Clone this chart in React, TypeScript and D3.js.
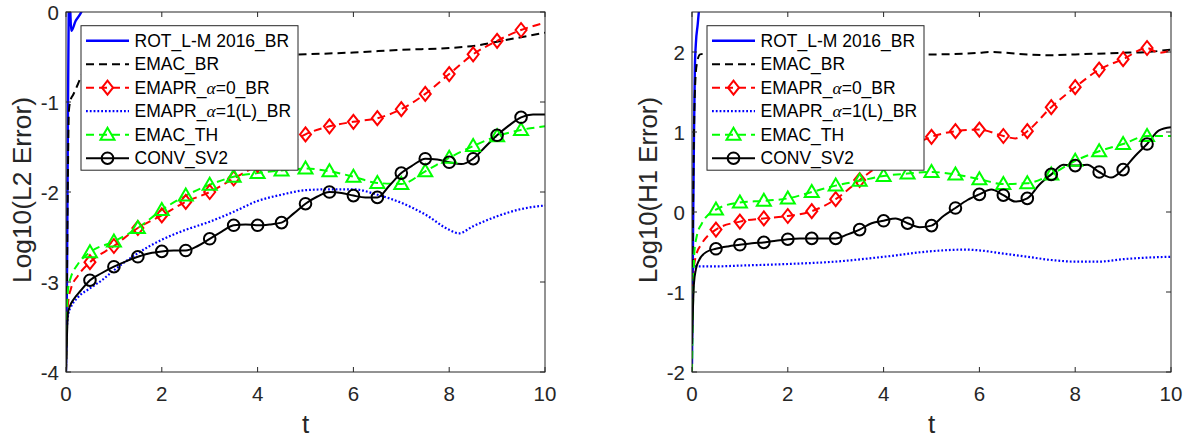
import React from 'react'
import * as d3 from 'd3'

type Pt = [number, number]

// legend names, drawing order = legend order
const seriesNames = ['ROT_L-M 2016_BR', 'EMAC_BR', 'EMAPR_α=0_BR', 'EMAPR_α=1(L)_BR', 'EMAC_TH', 'CONV_SV2']

const xTicks = [0, 2, 4, 6, 8, 10]
const l2Ticks = [-4, -3, -2, -1, 0]
const h1Ticks = [-2, -1, 0, 1, 2]

// ---- left panel: Log10(L2 Error) ----
const l2RotLM: Pt[] = [[0, -4], [0.02, -3.0], [0.04, -1.2], [0.055, -0.1], [0.07, 0.3], [0.09, 0.0], [0.11, -0.21], [0.2, -0.1], [0.32, 0.0], [0.5, 0.3]]
const l2EmacBR: Pt[] = [[0, -4], [0.02, -3.0], [0.04, -1.8], [0.06, -1.1], [0.1, -0.97], [0.15, -0.92], [0.25, -0.8], [0.35, -0.68], [0.5, -0.62], [1, -0.58], [2, -0.54], [3, -0.51], [4, -0.49], [5, -0.47], [6, -0.45], [7, -0.42], [8, -0.4], [8.6, -0.37], [9, -0.33], [9.5, -0.28], [10, -0.23]]
const l2Emapr0: Pt[] = [[0, -4], [0.02, -3.45], [0.05, -3.2], [0.1, -3.08], [0.25, -2.93], [0.5, -2.78], [1, -2.6], [1.5, -2.4], [2, -2.26], [2.5, -2.11], [3, -2.0], [3.5, -1.85], [4, -1.7], [4.5, -1.53], [5, -1.36], [5.5, -1.27], [6, -1.22], [6.5, -1.18], [7, -1.08], [7.5, -0.91], [8, -0.69], [8.5, -0.47], [9, -0.32], [9.5, -0.2], [10, -0.12]]
const l2Emapr1: Pt[] = [[0, -3.9], [0.02, -3.5], [0.05, -3.35], [0.1, -3.28], [0.25, -3.17], [0.5, -3.07], [0.75, -2.98], [1, -2.87], [1.5, -2.68], [2, -2.53], [2.5, -2.42], [3, -2.33], [3.5, -2.22], [4, -2.1], [4.5, -2.03], [5, -1.98], [5.5, -1.97], [6, -1.97], [6.5, -2.03], [7, -2.12], [7.5, -2.25], [8, -2.42], [8.2, -2.46], [8.5, -2.38], [9, -2.27], [9.5, -2.19], [10, -2.15]]
const l2EmacTH: Pt[] = [[0, -4], [0.02, -3.3], [0.05, -3.05], [0.1, -2.95], [0.25, -2.8], [0.5, -2.67], [1, -2.55], [1.5, -2.4], [2, -2.2], [2.5, -2.04], [3, -1.92], [3.5, -1.83], [4, -1.79], [4.5, -1.76], [5, -1.74], [5.5, -1.77], [6, -1.83], [6.5, -1.9], [7, -1.91], [7.5, -1.77], [8, -1.62], [8.5, -1.49], [9, -1.38], [9.5, -1.31], [10, -1.27]]
const l2ConvSV2: Pt[] = [[0, -4], [0.02, -3.6], [0.04, -3.35], [0.08, -3.27], [0.15, -3.2], [0.3, -3.1], [0.5, -2.98], [0.75, -2.9], [1, -2.83], [1.25, -2.77], [1.5, -2.72], [1.75, -2.68], [2, -2.66], [2.25, -2.65], [2.5, -2.65], [2.75, -2.6], [3, -2.52], [3.25, -2.44], [3.5, -2.37], [3.75, -2.36], [4, -2.37], [4.25, -2.36], [4.5, -2.34], [4.75, -2.24], [5, -2.13], [5.25, -2.05], [5.5, -2.0], [5.75, -2.01], [6, -2.04], [6.25, -2.06], [6.5, -2.06], [6.75, -1.93], [7, -1.79], [7.25, -1.7], [7.5, -1.63], [7.75, -1.64], [8, -1.67], [8.25, -1.69], [8.5, -1.63], [8.75, -1.5], [9, -1.37], [9.25, -1.26], [9.5, -1.17], [9.75, -1.14], [10, -1.14]]

// ---- right panel: Log10(H1 Error) ----
const h1RotLM: Pt[] = [[0, -1.9], [0.02, -0.4], [0.04, 0.9], [0.06, 1.8], [0.08, 2.1], [0.12, 2.35], [0.15, 2.55], [0.2, 2.8]]
const h1EmacBR: Pt[] = [[0, -1.5], [0.03, 0.5], [0.06, 1.5], [0.1, 1.85], [0.17, 1.97], [0.3, 1.98], [1, 1.97], [2, 1.97], [3, 1.96], [4, 1.97], [5, 1.97], [6, 1.99], [6.2, 2.0], [7, 1.97], [7.5, 1.96], [8, 1.97], [9, 1.99], [9.5, 2.0], [10, 2.03]]
const h1Emapr0: Pt[] = [[0, -1.0], [0.03, -0.75], [0.08, -0.55], [0.2, -0.4], [0.5, -0.22], [1, -0.12], [1.5, -0.08], [2, -0.05], [2.5, 0.01], [3, 0.16], [3.5, 0.4], [4, 0.62], [4.5, 0.8], [5, 0.94], [5.5, 1.01], [6, 1.03], [6.5, 0.95], [6.75, 0.92], [7, 1.01], [7.5, 1.31], [8, 1.56], [8.5, 1.78], [9, 1.91], [9.5, 2.05], [9.75, 1.99], [10, 2.02]]
const h1Emapr1: Pt[] = [[0, -1.0], [0.02, -0.72], [0.05, -0.68], [0.5, -0.68], [1, -0.67], [2, -0.65], [3, -0.62], [4, -0.56], [5, -0.49], [5.7, -0.47], [6, -0.48], [6.5, -0.52], [7, -0.56], [7.5, -0.6], [8, -0.62], [8.5, -0.62], [9, -0.59], [9.5, -0.57], [10, -0.56]]
const h1EmacTH: Pt[] = [[0, -2.0], [0.02, -1.2], [0.05, -0.5], [0.1, -0.3], [0.2, -0.15], [0.5, 0.03], [1, 0.12], [1.5, 0.14], [2, 0.17], [2.5, 0.25], [3, 0.33], [3.5, 0.39], [4, 0.45], [4.5, 0.48], [5, 0.5], [5.5, 0.47], [6, 0.41], [6.5, 0.35], [7, 0.36], [7.5, 0.47], [8, 0.64], [8.5, 0.76], [9, 0.85], [9.5, 0.95], [10, 0.95]]
const h1ConvSV2: Pt[] = [[0, -1.65], [0.02, -1.2], [0.04, -0.9], [0.08, -0.72], [0.15, -0.6], [0.3, -0.5], [0.5, -0.46], [0.75, -0.43], [1, -0.41], [1.25, -0.39], [1.5, -0.38], [1.75, -0.36], [2, -0.34], [2.25, -0.33], [2.5, -0.33], [2.75, -0.33], [3, -0.33], [3.25, -0.28], [3.5, -0.22], [3.75, -0.14], [4, -0.11], [4.25, -0.08], [4.5, -0.14], [4.75, -0.19], [5, -0.17], [5.25, -0.05], [5.5, 0.05], [5.75, 0.15], [6, 0.22], [6.25, 0.28], [6.5, 0.21], [6.75, 0.13], [7, 0.17], [7.25, 0.34], [7.5, 0.47], [7.75, 0.59], [8, 0.58], [8.25, 0.59], [8.5, 0.5], [8.75, 0.43], [9, 0.53], [9.25, 0.7], [9.5, 0.85], [9.75, 1.02], [10, 1.06]]

// line styles for each series
const styles = [
  { color: '#0000ff', dash: '', width: 2.4, marker: '' },
  { color: '#000000', dash: '8,5', width: 2, marker: '' },
  { color: '#ff0000', dash: '8,5', width: 2, marker: 'diamond' },
  { color: '#0000ff', dash: '1.8,2', width: 2.2, marker: '' },
  { color: '#00ff00', dash: '8,5', width: 2, marker: 'triangle' },
  { color: '#000000', dash: '', width: 2, marker: 'circle' },
]

const W = 479
const H = 360
const TOP = 12
const FONT = 'Liberation Sans, Arial, Helvetica, sans-serif'
const TXT = '#262626'

function Marker({ kind, cx, cy, color }: { kind: string; cx: number; cy: number; color: string }) {
  if (kind === 'circle') {
    return <circle cx={cx} cy={cy} r={5.8} fill="none" stroke={color} strokeWidth={2} />
  }
  if (kind === 'diamond') {
    return <path d={`M${cx},${cy - 7}L${cx + 5.5},${cy}L${cx},${cy + 7}L${cx - 5.5},${cy}Z`} fill="none" stroke={color} strokeWidth={2} />
  }
  if (kind === 'triangle') {
    return <path d={`M${cx},${cy - 7}L${cx + 7},${cy + 5}L${cx - 7},${cy + 5}Z`} fill="none" stroke={color} strokeWidth={2} />
  }
  return null
}

function LegendLabel({ name, x, y }: { name: string; x: number; y: number }) {
  const i = name.indexOf('α')
  if (i < 0) {
    return <text x={x} y={y} fontSize={17.5} fontFamily={FONT} fill="#000">{name}</text>
  }
  return (
    <text x={x} y={y} fontSize={17.5} fontFamily={FONT} fill="#000">
      {name.slice(0, i)}
      <tspan fontStyle="italic" fontFamily="Liberation Serif, DejaVu Serif, serif">α</tspan>
      {name.slice(i + 1)}
    </text>
  )
}

function Panel({ id, x0, yDomain, yTicks, yLabel, series }: {
  id: string; x0: number; yDomain: [number, number]; yTicks: number[]; yLabel: string; series: Pt[][]
}) {
  const x = d3.scaleLinear().domain([0, 10]).range([x0, x0 + W])
  const y = d3.scaleLinear().domain(yDomain).range([TOP + H, TOP])
  const line = d3.line<Pt>().x(d => x(d[0])).y(d => y(d[1])).curve(d3.curveMonotoneX)
  const tl = 5

  const lgX = x0 + 15
  const lgY = 25.7
  const lgW = 217
  const lgH = 144.5

  return (
    <g>
      <defs>
        <clipPath id={id}>
          <rect x={x0} y={TOP} width={W} height={H} />
        </clipPath>
      </defs>
      <rect x={x0} y={TOP} width={W} height={H} fill="#fff" />

      {/* curves */}
      <g clipPath={`url(#${id})`}>
        {series.map((s, i) => (
          <path key={i} d={line(s) || ''} fill="none" stroke={styles[i].color}
            strokeWidth={styles[i].width} strokeDasharray={styles[i].dash || undefined} />
        ))}
        {series.map((s, i) =>
          styles[i].marker
            ? s.filter(d => d[0] > 0 && d[0] < 10 && Number.isInteger(d[0] * 2)).map((d, j) => (
                <Marker key={i + '-' + j} kind={styles[i].marker} cx={x(d[0])} cy={y(d[1])} color={styles[i].color} />
              ))
            : null
        )}
      </g>

      {/* box and ticks */}
      <rect x={x0} y={TOP} width={W} height={H} fill="none" stroke={TXT} strokeWidth={1} />
      {xTicks.map(t => (
        <g key={'x' + t}>
          <line x1={x(t)} x2={x(t)} y1={TOP + H} y2={TOP + H - tl} stroke={TXT} />
          <line x1={x(t)} x2={x(t)} y1={TOP} y2={TOP + tl} stroke={TXT} />
          <text x={x(t)} y={TOP + H + 29} textAnchor="middle" fontSize={20.5} fontFamily={FONT} fill={TXT}>{t}</text>
        </g>
      ))}
      {yTicks.map(t => (
        <g key={'y' + t}>
          <line x1={x0} x2={x0 + tl} y1={y(t)} y2={y(t)} stroke={TXT} />
          <line x1={x0 + W} x2={x0 + W - tl} y1={y(t)} y2={y(t)} stroke={TXT} />
          <text x={x0 - 7} y={y(t) + 7.5} textAnchor="end" fontSize={20.5} fontFamily={FONT} fill={TXT}>{t}</text>
        </g>
      ))}
      <text x={x0 + W / 2} y={433} textAnchor="middle" fontSize={26} fontFamily={FONT} fill={TXT}>t</text>
      <text transform={`translate(${x0 - 35},${TOP + H / 2 - 2}) rotate(-90)`} textAnchor="middle"
        fontSize={26} textLength={186} lengthAdjust="spacingAndGlyphs" fontFamily={FONT} fill={TXT}>{yLabel}</text>

      {/* legend */}
      <rect x={lgX} y={lgY} width={lgW} height={lgH} fill="#fff" stroke={TXT} strokeWidth={1} />
      {seriesNames.map((n, i) => {
        const cy = lgY + 15 + i * 23.5
        return (
          <g key={n}>
            <line x1={lgX + 5} x2={lgX + 48} y1={cy} y2={cy} stroke={styles[i].color}
              strokeWidth={styles[i].width} strokeDasharray={styles[i].dash || undefined} />
            {styles[i].marker ? <Marker kind={styles[i].marker} cx={lgX + 26.5} cy={cy} color={styles[i].color} /> : null}
            <LegendLabel name={n} x={lgX + 53.5} y={cy + 6.2} />
          </g>
        )
      })}
    </g>
  )
}

export default function App() {
  return (
    <svg width={1192} height={440} style={{ position: 'absolute', left: 0, top: 0, background: '#fff' }}>
      <rect width={1192} height={440} fill="#fff" />
      <Panel id="clipL2" x0={66} yDomain={[-4, 0]} yTicks={l2Ticks} yLabel="Log10(L2 Error)"
        series={[l2RotLM, l2EmacBR, l2Emapr0, l2Emapr1, l2EmacTH, l2ConvSV2]} />
      <Panel id="clipH1" x0={692} yDomain={[-2, 2.5]} yTicks={h1Ticks} yLabel="Log10(H1 Error)"
        series={[h1RotLM, h1EmacBR, h1Emapr0, h1Emapr1, h1EmacTH, h1ConvSV2]} />
    </svg>
  )
}
